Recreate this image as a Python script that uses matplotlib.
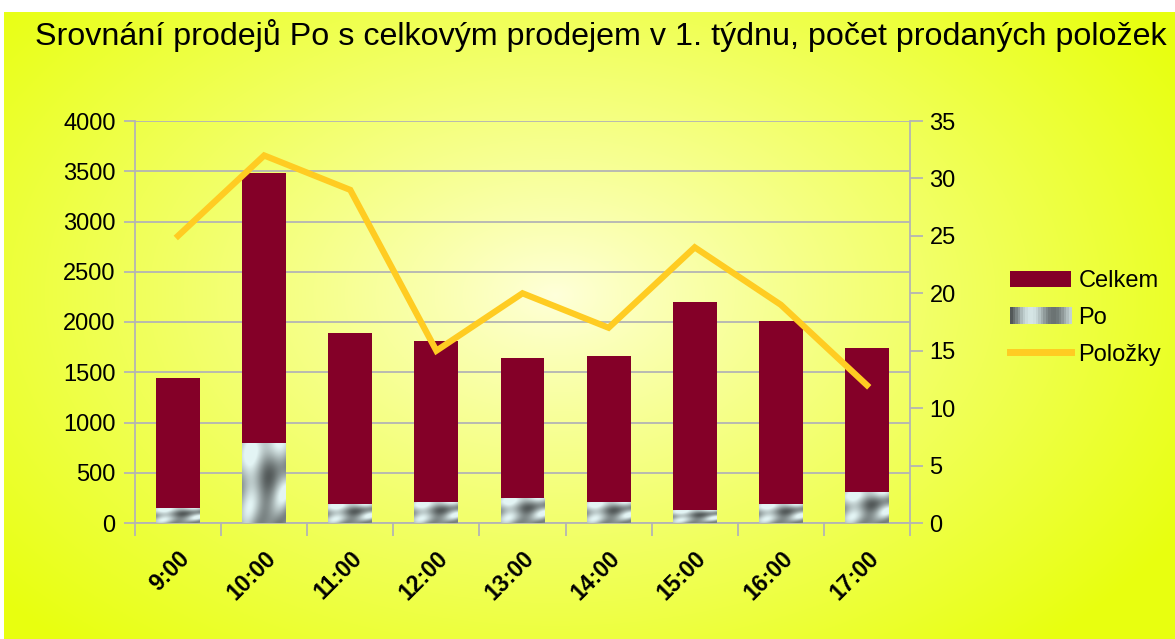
import numpy as np
import matplotlib
matplotlib.use("Agg")
import matplotlib.pyplot as plt
from matplotlib.patches import Patch, Rectangle
from matplotlib.lines import Line2D
from matplotlib.legend_handler import HandlerBase

# ---- data ----
hours = ["9:00", "10:00", "11:00", "12:00", "13:00", "14:00", "15:00", "16:00", "17:00"]
celkem = [1440, 3480, 1890, 1810, 1640, 1660, 2200, 2010, 1740]
po = [150, 800, 190, 210, 250, 210, 130, 190, 310]
polozky = [25, 32, 29, 15, 20, 17, 24, 19, 12]

title = "Srovnání prodejů Po s celkovým prodejem v 1. týdnu, počet prodaných položek"

W, H = 1175, 639
plt.rcParams["font.family"] = ["Liberation Sans", "DejaVu Sans"]
fig = plt.figure(figsize=(W / 100, H / 100), dpi=100)
fig.patch.set_facecolor("white")

# ---- background radial gradient ----
bg = fig.add_axes([4 / W, 0, 1 - 4 / W, 1 - 12 / H], zorder=-5)
bg.set_axis_off()
ny, nx = 300, 600
yy, xx = np.mgrid[0:ny, 0:nx]
cx, cy = 0.47 * nx, 0.45 * ny
r = np.sqrt(((xx - cx) / (0.62 * nx)) ** 2 + ((yy - cy) / (0.75 * ny)) ** 2)
t = np.clip(r, 0, 1) ** 0.85
inner = np.array([1.0, 1.0, 0.86])
outer = np.array([0.91, 1.0, 0.06])
img = inner[None, None, :] * (1 - t[..., None]) + outer[None, None, :] * t[..., None]
bg.imshow(img, aspect="auto", extent=[0, 1, 0, 1], origin="upper")
bg.set_xlim(0, 1)
bg.set_ylim(0, 1)

# ---- main axes ----
ax = fig.add_axes([135 / W, (H - 523) / H, 775 / W, 402 / H])
ax.set_facecolor("none")
x = np.arange(len(hours))
bw = 0.51
bars_c = ax.bar(x, celkem, width=bw, color="#840028", zorder=2)
bars_p = ax.bar(x, po, width=bw, color="#a8b8b8", zorder=3)

# metallic texture for "Po" bars
ty, tx = np.mgrid[0:48, 0:48] / 48.0
v = 0.66 + 0.26 * np.sin(6 * tx + 4 * ty) * np.cos(5 * ty - 3 * tx) + 0.16 * np.sin(11 * tx * ty + 1.0)
v = np.clip(v, 0.22, 0.97)
tex = np.stack([v * 0.92, v * 0.99, v * 0.99], axis=-1)
tex = np.clip(tex, 0, 1)
for p in bars_p:
    x0, y0 = p.get_x(), p.get_y()
    im = ax.imshow(tex, extent=[x0, x0 + p.get_width(), y0, y0 + p.get_height()],
                   aspect="auto", zorder=3.5, interpolation="bilinear")
    im.set_clip_path(p)

grid_c = "#b4b4b4"
ax.set_xlim(-0.5, len(hours) - 0.5)
ax.set_ylim(0, 4000)
ax.set_yticks(np.arange(0, 4001, 500))
ax.yaxis.grid(True, color=grid_c, lw=1.3, zorder=0)
ax.set_axisbelow(True)
for s in ["top", "right"]:
    ax.spines[s].set_visible(False)
for s in ["left", "bottom"]:
    ax.spines[s].set_color(grid_c)
    ax.spines[s].set_linewidth(1.3)
ax.tick_params(axis="y", length=8, width=1.3, color=grid_c, labelsize=17, pad=6)
ax.set_xticks(x)
ax.set_xticklabels(hours, rotation=45, ha="right", rotation_mode="anchor",
                   fontsize=16.5, fontweight="bold")
ax.tick_params(axis="x", which="major", length=0, pad=17)
ax.set_xticks(np.arange(-0.5, len(hours), 1.0), minor=True)
ax.tick_params(axis="x", which="minor", length=9, width=1.3, color=grid_c)

# ---- secondary axis ----
ax2 = ax.twinx()
ax2.set_ylim(0, 35)
ax2.set_yticks(np.arange(0, 36, 5))
ax2.plot(x, polozky, color="#ffcc22", lw=4.5, zorder=5, solid_joinstyle="miter")
for s in ["top", "left", "bottom"]:
    ax2.spines[s].set_visible(False)
ax2.spines["right"].set_color(grid_c)
ax2.spines["right"].set_linewidth(1.3)
ax2.tick_params(axis="y", length=9, width=1.3, color=grid_c, labelsize=17, pad=5)

# ---- title ----
fig.text(35 / W, 1 - 35 / H, title, fontsize=23.2, va="center", ha="left")


# ---- legend ----
class GradientHandler(HandlerBase):
    def create_artists(self, legend, orig_handle, xdescent, ydescent, width, height, fontsize, trans):
        n = 24
        arts = []
        for i in range(n):
            f = i / (n - 1)
            g = 0.45 + 0.45 * np.sin(np.pi * f * 1.3 + 0.2) ** 2
            if f < 0.15:
                g = 0.35 + f * 2
            col = (g * 0.93, g, g)
            arts.append(Rectangle((xdescent + width * i / n, -ydescent), width / n + 0.3, height,
                                  facecolor=col, edgecolor="none", transform=trans))
        return arts


po_handle = Patch(facecolor="#a8b8b8", label="Po")
handles = [Patch(facecolor="#840028", label="Celkem"), po_handle,
           Line2D([0], [0], color="#ffcc22", lw=5, label="Položky")]
fig.legend(handles=handles, loc="center left", bbox_to_anchor=(1010 / W, 1 - 318 / H),
           frameon=False, fontsize=17, handlelength=2.6, handleheight=0.7,
           labelspacing=0.62, handletextpad=0.3, borderaxespad=0, borderpad=0,
           handler_map={po_handle: GradientHandler()})

fig.savefig("out.png", dpi=100)
